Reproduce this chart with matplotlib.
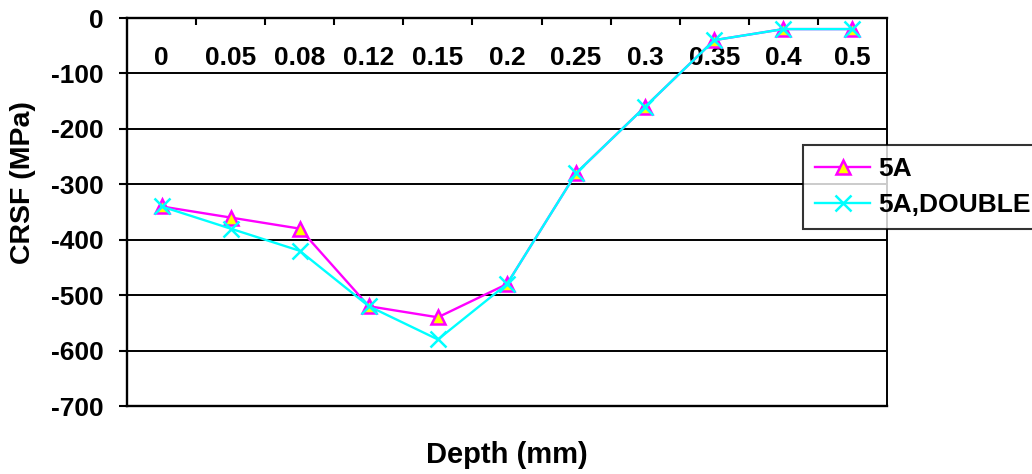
import matplotlib
matplotlib.use("Agg")
import matplotlib.pyplot as plt
from matplotlib.ticker import FixedLocator

depth_labels = ["0", "0.05", "0.08", "0.12", "0.15", "0.2", "0.25", "0.3", "0.35", "0.4", "0.5"]
series_5a = [-340, -360, -380, -520, -540, -480, -280, -160, -40, -20, -20]
series_5a_double = [-340, -380, -420, -520, -580, -480, -280, -160, -40, -20, -20]
y_ticks = [0, -100, -200, -300, -400, -500, -600, -700]

plt.rcParams['font.family'] = ['Liberation Sans', 'DejaVu Sans']
plt.rcParams['font.weight'] = 'bold'
plt.rcParams['axes.unicode_minus'] = False

fig = plt.figure(figsize=(10.32, 4.74), dpi=100)
ax = fig.add_axes([127/1032, 1-406/474, 760/1032, 388/474])

x = list(range(len(depth_labels)))
ax.plot(x, series_5a, color='#FF00FF', lw=1.7, marker='^', markersize=10,
        markerfacecolor='#FFFF00', markeredgecolor='#FF00FF', markeredgewidth=1.8,
        label='5A', zorder=4)
ax.plot(x, series_5a_double, color='#00FFFF', lw=1.7, marker='x', markersize=11,
        markeredgecolor='#00FFFF', markeredgewidth=1.8, label='5A,DOUBLE', zorder=5)

ax.set_xlim(-0.5, len(depth_labels) - 0.5)
ax.set_ylim(-700, 0)

# category axis crosses at 0 (top)
ax.spines['bottom'].set_position(('data', 0))
ax.spines['top'].set_position(('data', -700))
for s in ['left', 'right', 'bottom', 'top']:
    ax.spines[s].set_color('black')
    ax.spines[s].set_linewidth(1.7)
ax.spines['right'].set_linewidth(1.4)

ax.xaxis.set_major_locator(FixedLocator(x))
ax.set_xticklabels(depth_labels)
ax.xaxis.set_minor_locator(FixedLocator([i + 0.5 for i in x[:-1]]))
ax.tick_params(axis='x', which='major', length=0, pad=20, labelsize=19)
ax.tick_params(axis='x', which='minor', length=5, width=1.5, direction='out', color='black')
ax.tick_params(axis='x', top=False, which='both')

ax.set_yticks(y_ticks)
ax.tick_params(axis='y', length=5.5, width=1.5, direction='out', pad=11, labelsize=19)

ax.yaxis.grid(True, color='black', lw=1.4)
ax.set_axisbelow(True)

ax.set_ylabel('CRSF (MPa)', fontsize=20.5, fontweight='bold')
ax.yaxis.set_label_coords(-0.137, 0.577)
ax.yaxis.label.set_va('center')
ax.set_xlabel('Depth (mm)', fontsize=21, fontweight='bold')
ax.xaxis.set_label_coords(0.5, -0.126)
ax.xaxis.label.set_va('center')

leg = fig.legend(loc='upper left', bbox_to_anchor=(803/1032, 1-145/474), borderaxespad=0,
                 frameon=True, fancybox=False, edgecolor='black',
                 handlelength=2.1, handletextpad=0.3, borderpad=0.45, labelspacing=0.45,
                 prop={'weight': 'bold', 'size': 19})
leg.get_frame().set_linewidth(1.5)

fig.savefig('out.png', dpi=100)
